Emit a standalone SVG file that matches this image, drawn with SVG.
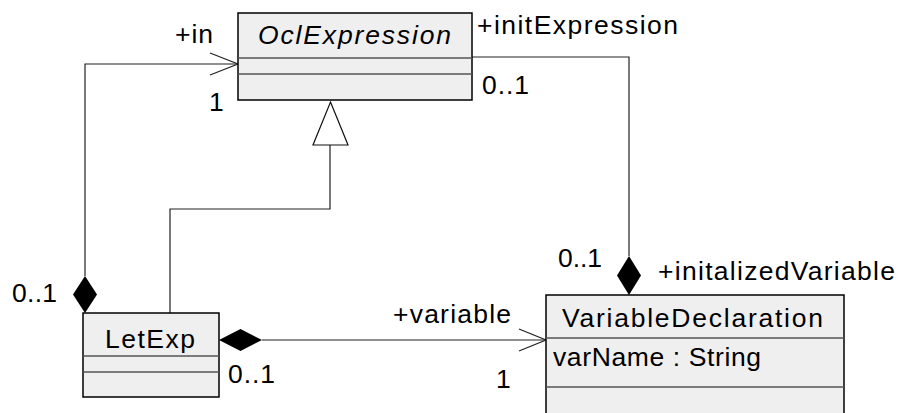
<svg xmlns="http://www.w3.org/2000/svg" width="902" height="413" viewBox="0 0 902 413">
<style>
.box{fill:#efefef;stroke:#000;stroke-width:1.5}
.sep{stroke:#555;stroke-width:1.5}
.ln{fill:none;stroke:#222;stroke-width:1.2}
.dia{fill:#000;stroke:none}
.tri{fill:#fff;stroke:#111;stroke-width:1.2}
text{font-family:"Liberation Sans",Arial,sans-serif;font-size:26.5px;fill:#000}
.it{font-style:italic}
</style>
<rect width="902" height="413" fill="#fff"/>
<g id="connectors">
  <!-- +in association -->
  <polyline class="ln" points="85,276 85,64 238,64"/>
  <polyline class="ln" points="210,53 238,64 210,75"/>
  <polygon class="dia" points="85,276 97,294.5 85,313 73,294.5"/>
  <!-- generalization -->
  <polyline class="ln" points="170,313 170,209 330,209 330,145"/>
  <polygon class="tri" points="330.5,102 348,145 313,145"/>
  <!-- initExpression -->
  <polyline class="ln" points="472,57 629,57 629,256"/>
  <polygon class="dia" points="629,256 641,275.5 629,295 617,275.5"/>
  <!-- variable -->
  <line class="ln" x1="262" y1="340" x2="546" y2="340"/>
  <polyline class="ln" points="519,329 546,340 519,351"/>
  <polygon class="dia" points="219,340 240.5,329 262,340 240.5,351"/>
  <!-- labels -->
  <text x="175" y="43" textLength="38">+in</text>
  <text x="209" y="111">1</text>
  <text x="12" y="302" textLength="45">0..1</text>
  <text x="477" y="34" textLength="201">+initExpression</text>
  <text x="482" y="94" textLength="47">0..1</text>
  <text x="558" y="267" textLength="44">0..1</text>
  <text x="658" y="280" textLength="237">+initalizedVariable</text>
  <text x="393" y="323" textLength="118">+variable</text>
  <text x="496" y="388">1</text>
  <text x="228" y="383" textLength="47">0..1</text>
</g>
<g id="OclExpression">
  <rect class="box" x="238" y="13" width="234" height="87"/>
  <line class="sep" x1="238" y1="58" x2="472" y2="58"/>
  <line class="sep" x1="238" y1="74" x2="472" y2="74"/>
  <text class="it" x="258" y="44" textLength="193">OclExpression</text>
</g>
<g id="LetExp">
  <rect class="box" x="83" y="313" width="136" height="84"/>
  <line class="sep" x1="83" y1="356" x2="219" y2="356"/>
  <line class="sep" x1="83" y1="372" x2="219" y2="372"/>
  <text x="105" y="348" textLength="90">LetExp</text>
</g>
<g id="VariableDeclaration">
  <rect class="box" x="546" y="295" width="298" height="130"/>
  <line class="sep" x1="546" y1="338" x2="844" y2="338"/>
  <line class="sep" x1="546" y1="387" x2="844" y2="387"/>
  <text x="562" y="327" textLength="261">VariableDeclaration</text>
  <text x="553" y="366" textLength="208">varName : String</text>
</g>
</svg>
